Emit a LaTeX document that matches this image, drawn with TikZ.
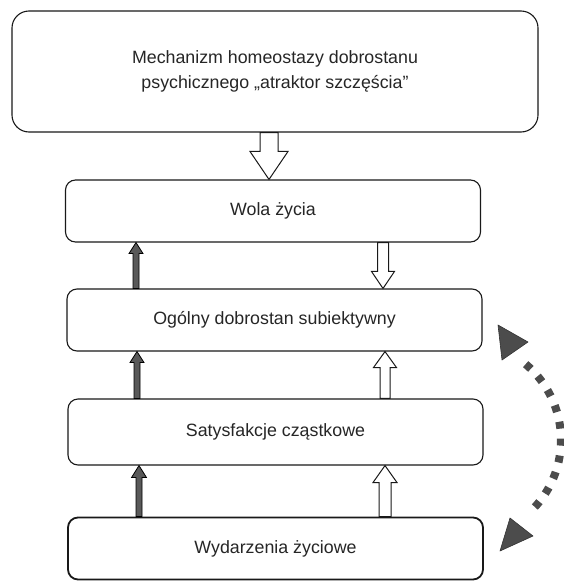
\documentclass[tikz,border=0pt]{standalone}
\usepackage{fontspec}
\setmainfont{Liberation Sans}
\usetikzlibrary{calc}
\tikzset{
  box/.style={draw=black!90, line width=1.1pt, rounded corners=10pt, fill=white,
    minimum width=415pt, minimum height=62pt, align=center, inner sep=0pt,
    font=\fontsize{17.8}{24.5}\selectfont, text=black!85},
  bigbox/.style={box, rounded corners=17pt, minimum width=526pt, minimum height=121pt},
  hollow/.style={draw=black!90, line width=1pt, fill=white, line join=miter},
  darkarr/.style={draw=black, line width=0.8pt, fill=black!65},
  dots/.style={line width=8pt, draw=black!70, dash pattern=on 7pt off 10pt},
  tri/.style={fill=black!70, draw=black!80, line width=0.6pt, line join=round}
}
\newcommand\arrUp[6]{\draw[#1] let \p1=(#2), \p2=(#3) in
  (\x1-#4,\y1) -- (\x1-#4,\y2-#6) -- (\x1-#5,\y2-#6) -- (\x1,\y2) --
  (\x1+#5,\y2-#6) -- (\x1+#4,\y2-#6) -- (\x1+#4,\y1) -- cycle;}
\newcommand\arrDown[6]{\draw[#1] let \p1=(#2), \p2=(#3) in
  (\x1-#4,\y1) -- (\x1-#4,\y2+#6) -- (\x1-#5,\y2+#6) -- (\x1,\y2) --
  (\x1+#5,\y2+#6) -- (\x1+#4,\y2+#6) -- (\x1+#4,\y1) -- cycle;}
\begin{document}
\begin{tikzpicture}[x=1pt, y=-1pt]
\useasboundingbox (0,0) rectangle (563,581);
\node[bigbox] (top) at (275,71.5) {Mechanizm homeostazy dobrostanu\\psychicznego „atraktor szczęścia”};
\node[box] (wola) at (273,211) {Wola życia};
\node[box] (ogol) at (274.5,320) {Ogólny dobrostan subiektywny};
\node[box, minimum height=66pt] (sat) at (275.5,432) {Satysfakcje cząstkowe};
\node[box, line width=1.8pt] (wyd) at (275.5,548.5) {Wydarzenia życiowe};
% x positions of arrows
\coordinate (xa) at (269,0);
\coordinate (xr) at (383,0);
\coordinate (xr2) at (385,0);
\coordinate (xl1) at (136,0);
\coordinate (xl2) at (137,0);
\coordinate (xl3) at (139,0);
% hollow arrows
\arrDown{hollow}{top.south -| xa}{wola.north -| xa}{9pt}{19pt}{28pt}
\arrDown{hollow}{wola.south -| xr}{ogol.north -| xr}{5.5pt}{11.5pt}{17pt}
\arrUp{hollow}{sat.north -| xr2}{ogol.south -| xr2}{5pt}{11.5pt}{16pt}
\arrUp{hollow}{wyd.north -| xr2}{sat.south -| xr2}{6pt}{12pt}{17pt}
% dark arrows
\arrUp{darkarr}{ogol.north -| xl1}{wola.south -| xl1}{3pt}{7pt}{11pt}
\arrUp{darkarr}{sat.north -| xl2}{ogol.south -| xl2}{3pt}{7pt}{11pt}
\arrUp{darkarr}{wyd.north -| xl3}{sat.south -| xl3}{3pt}{7.5pt}{12pt}
% dotted arc with arrowheads
\coordinate (c) at (462,440);
\draw[dots] plot[domain=-50:44, samples=40] ({462+99*cos(\x)},{440+99*sin(\x)});
\coordinate (t1) at (498,325);
\coordinate (t2) at (528,342);
\coordinate (t3) at (502,360);
\coordinate (b1) at (500,551);
\coordinate (b2) at (510,518);
\coordinate (b3) at (533,536);
\draw[tri] (t1) -- (t2) -- (t3) -- cycle;
\draw[tri] (b1) -- (b2) -- (b3) -- cycle;
\end{tikzpicture}
\end{document}
